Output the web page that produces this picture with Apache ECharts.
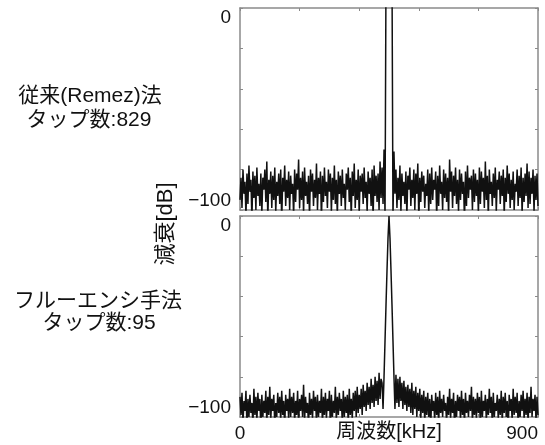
<!DOCTYPE html>
<html>
<head>
<meta charset="utf-8">
<script src="https://cdn.jsdelivr.net/npm/echarts@6/dist/echarts.min.js"></script>
<style>
html,body{margin:0;padding:0;background:#fff;}
#chart{width:545px;height:445px;}
</style>
</head>
<body>
<div id="chart"></div>
<script>
// Frequency grid step (kHz) and range
const freqStepKHz = 3;
const freqMaxKHz = 900;

// Top panel: conventional (Remez) method, 829 taps — attenuation in dB (0..438 kHz)
const topStopLow = [
 -95,-84,-99,-80,-92,-86,-103,-82,-97,-78,-91,-85,-105,-81,-94,-83,-100,-79,-93,-87,
 -98,-82,-102,-84,-90,-80,-96,-76,-104,-85,-92,-81,-99,-83,-95,-79,-101,-86,-93,-82,
 -97,-80,-106,-84,-91,-78,-98,-85,-94,-81,-100,-83,-92,-87,-103,-80,-96,-82,-90,-75,
 -99,-84,-95,-81,-102,-79,-93,-86,-97,-83,-104,-80,-91,-82,-98,-85,-94,-77,-100,-84,
 -92,-81,-105,-83,-96,-79,-93,-86,-99,-80,-91,-82,-101,-84,-95,-78,-97,-85,-103,-81,
 -92,-83,-98,-80,-94,-87,-100,-82,-90,-79,-96,-84,-104,-81,-93,-77,-99,-85,-95,-80,
 -102,-83,-91,-82,-97,-79,-94,-86,-101,-81,-92,-84,-98,-80,-105,-78,-93,-83,-96,-82,
 -100,-76,-94,-79,-97,-70,-104
];
// passband 441..459 kHz (above 0 dB, clipped at the top)
const topPass = [20,20,20,20,20,20,20];
// 462..900 kHz
const topStopHigh = [
 -104,-71,-92,-80,-99,-84,-95,-78,-101,-82,-93,-86,-97,-81,-103,-83,-90,-79,-98,-85,
 -94,-80,-100,-82,-92,-77,-105,-84,-96,-81,-91,-83,-99,-87,-93,-80,-102,-82,-97,-79,
 -95,-85,-90,-81,-104,-83,-98,-78,-92,-86,-100,-80,-94,-82,-96,-84,-103,-75,-91,-81,
 -99,-83,-93,-79,-97,-85,-101,-80,-95,-82,-92,-86,-106,-81,-98,-78,-94,-84,-90,-83,
 -100,-80,-96,-82,-93,-85,-102,-79,-97,-81,-91,-84,-99,-76,-95,-83,-104,-80,-92,-86,
 -98,-82,-94,-79,-101,-85,-90,-81,-97,-83,-93,-80,-103,-84,-96,-78,-92,-82,-99,-85,
 -95,-81,-100,-87,-91,-80,-98,-83,-94,-79,-102,-84,-96,-82,-93,-77,-99,-81,-97,-84,
 -92,-80,-101,-83,-95,-82,-98
];

// Bottom panel: fluency method, 95 taps — attenuation in dB (0..429 kHz)
const botStopLow = [
 -90,-99,-88,-103,-92,-97,-87,-105,-91,-100,-89,-98,-93,-104,-86,-99,-90,-102,-88,-97,
 -91,-106,-89,-100,-92,-98,-87,-103,-90,-99,-85,-101,-91,-97,-89,-104,-93,-100,-88,-98,
 -90,-102,-87,-99,-92,-105,-89,-97,-91,-101,-86,-100,-90,-98,-88,-103,-92,-99,-87,-104,
 -91,-97,-89,-100,-84,-102,-90,-98,-93,-105,-88,-99,-91,-101,-87,-97,-90,-103,-89,-100,
 -92,-98,-86,-104,-90,-99,-88,-101,-91,-97,-87,-106,-89,-100,-92,-98,-85,-102,-90,-99,
 -88,-97,-91,-103,-87,-100,-90,-98,-89,-104,-86,-99,-91,-101,-88,-97,-87,-100,-85,-98,
 -89,-96,-86,-99,-84,-95,-87,-97,-83,-94,-85,-96,-81,-93,-84,-95,-80,-92,-82,-94,
 -78,-91,-81,-83
];
// main lobe 432..468 kHz
const botMainLobe = [-96,-80,-62,-44,-27,-11,0,-11,-27,-44,-62,-80,-96];
// 471..900 kHz
const botStopHigh = [
 -79,-93,-81,-95,-80,-92,-83,-96,-82,-94,-85,-97,-84,-95,-86,-98,-83,-99,-87,-96,
 -85,-100,-88,-97,-86,-101,-89,-98,-87,-103,-90,-99,-88,-100,-91,-105,-89,-97,-92,-102,
 -88,-99,-90,-104,-87,-98,-91,-100,-89,-97,-93,-103,-90,-99,-86,-101,-91,-98,-88,-106,
 -92,-100,-89,-97,-90,-102,-87,-99,-91,-104,-88,-98,-92,-100,-89,-97,-85,-103,-90,-99,
 -91,-101,-88,-98,-90,-105,-87,-100,-92,-97,-89,-102,-91,-99,-86,-98,-90,-104,-88,-100,
 -93,-97,-89,-101,-91,-99,-87,-103,-90,-98,-88,-100,-92,-106,-89,-97,-91,-102,-86,-99,
 -90,-98,-88,-104,-92,-100,-89,-97,-87,-101,-91,-99,-88,-103,-90,-98,-85,-100,-91,-97,
 -89,-102,-90,-99
];

// Text
const topTitle = ['従来(Remez)法', 'タップ数:829'];
const botTitle = ['フルーエンシ手法', 'タップ数:95'];
const yName = '減衰[dB]';
const xName = '周波数[kHz]';
const yTickLabels = {'0': '0', '-100': '\u2212100'};
const xTickLabels = {'0': '0', '900': '900'};

function toPairs(vals) {
  return vals.map((v, i) => [i * freqStepKHz, v]);
}
const topData = toPairs(topStopLow.concat(topPass, topStopHigh));
const botData = toPairs(botStopLow.concat(botMainLobe, botStopHigh));

const FONT = '"Liberation Sans", "Noto Sans CJK JP", sans-serif';
const frame = '#8a8a8a';

function xAx(grid, pos, showLabel) {
  return {
    type: 'value', gridIndex: grid, position: pos, min: 0, max: freqMaxKHz, interval: 180,
    axisLine: {show: true, onZero: false, lineStyle: {color: frame, width: 1.5}},
    axisTick: {show: true, inside: true, length: 3, lineStyle: {color: frame}},
    splitLine: {show: false},
    axisLabel: showLabel ? {
      show: true, margin: 7, fontSize: 19, color: '#111', fontFamily: FONT,
      alignMaxLabel: 'right',
      formatter: v => (xTickLabels[String(v)] !== undefined ? xTickLabels[String(v)] : '')
    } : {show: false},
    name: showLabel ? xName : '',
    nameLocation: 'middle', nameGap: 5, nameMoveOverlap: false,
    nameTextStyle: {fontSize: 20, color: '#111', fontFamily: FONT}
  };
}
function yAx(grid, pos, showLabel) {
  return {
    type: 'value', gridIndex: grid, position: pos, min: -100, max: 0, interval: 20,
    axisLine: {show: true, onZero: false, lineStyle: {color: frame, width: 1.5}},
    axisTick: {show: true, inside: true, length: 3, lineStyle: {color: frame}},
    splitLine: {show: false},
    axisLabel: showLabel ? {
      show: true, margin: 9, fontSize: 19, color: '#111', fontFamily: FONT,
      verticalAlignMaxLabel: 'top', verticalAlignMinLabel: 'bottom',
      formatter: v => (yTickLabels[String(v)] !== undefined ? yTickLabels[String(v)] : '')
    } : {show: false}
  };
}

const chart = echarts.init(document.getElementById('chart'), null, {renderer: 'canvas'});
chart.setOption({
  animation: false,
  backgroundColor: '#fff',
  grid: [
    {left: 240, top: 8, width: 298, height: 202, outerBoundsMode: 'none', containLabel: false},
    {left: 240, top: 216, width: 298, height: 201, outerBoundsMode: 'none', containLabel: false}
  ],
  xAxis: [xAx(0, 'bottom', false), xAx(0, 'top', false), xAx(1, 'bottom', true), xAx(1, 'top', false)],
  yAxis: [yAx(0, 'left', true), yAx(0, 'right', false), yAx(1, 'left', true), yAx(1, 'right', false)],
  series: [
    {type: 'line', xAxisIndex: 0, yAxisIndex: 0, data: topData, showSymbol: false, clip: true,
     lineStyle: {color: '#111', width: 1.5}},
    {type: 'line', xAxisIndex: 2, yAxisIndex: 2, data: botData, showSymbol: false, clip: true,
     lineStyle: {color: '#111', width: 1.5}}
  ],
  graphic: [
    {type: 'text', x: 90, y: 96, style: {text: topTitle[0], font: '21px ' + FONT, fill: '#111', align: 'center', verticalAlign: 'middle'}},
    {type: 'text', x: 89, y: 120, style: {text: topTitle[1], font: '21px ' + FONT, fill: '#111', align: 'center', verticalAlign: 'middle'}},
    {type: 'text', x: 98, y: 301, style: {text: botTitle[0], font: '21px ' + FONT, fill: '#111', align: 'center', verticalAlign: 'middle'}},
    {type: 'text', x: 99, y: 323, style: {text: botTitle[1], font: '21px ' + FONT, fill: '#111', align: 'center', verticalAlign: 'middle'}},
    {type: 'text', x: 166, y: 224, rotation: Math.PI / 2, style: {text: yName, font: '22px ' + FONT, fill: '#111', align: 'center', verticalAlign: 'middle'}}
  ]
});
</script>
</body>
</html>
